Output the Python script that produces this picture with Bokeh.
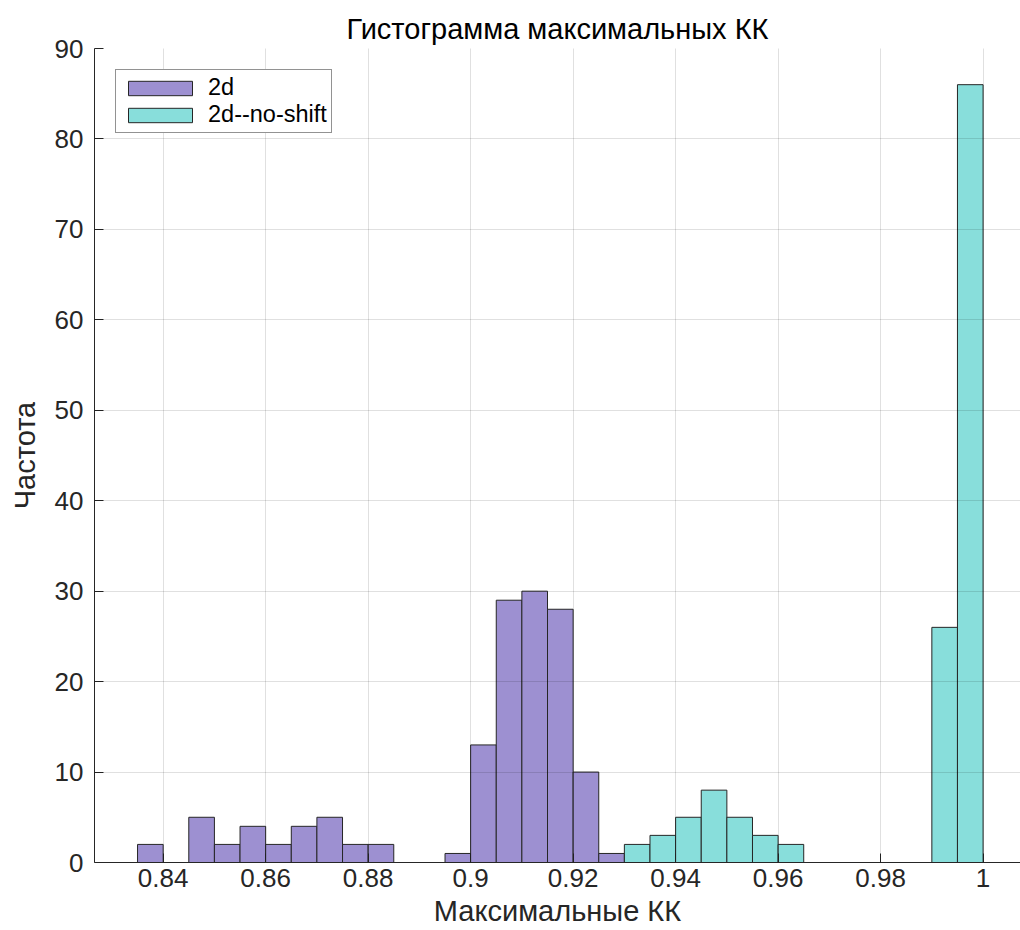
from bokeh.plotting import figure
from bokeh.models import ColumnDataSource, FixedTicker, Legend, LegendItem
from bokeh.embed import file_html
from bokeh.resources import INLINE

# ---- data ----
title_text = "Гистограмма максимальных КК"
x_label = "Максимальные КК"
y_label = "Частота"
series_names = ["2d", "2d--no-shift"]
bin_width = 0.005
start_2d = 0.835
counts_2d = [2, 0, 5, 2, 4, 2, 4, 5, 2, 2, 0, 0, 1, 13, 29, 30, 28, 10, 1]
start_noshift = 0.93
counts_noshift = [2, 3, 5, 8, 5, 3, 2, 0, 0, 0, 0, 0, 26, 86]
x_ticks = [0.84, 0.86, 0.88, 0.90, 0.92, 0.94, 0.96, 0.98, 1.0]
x_tick_labels = ["0.84", "0.86", "0.88", "0.9", "0.92", "0.94", "0.96", "0.98", "1"]
y_ticks = [0, 10, 20, 30, 40, 50, 60, 70, 80, 90]

colors = ["#9D90D1", "#88DEDB"]
edge = "#262626"
FONT = "Liberation Sans"


def hist_source(start, counts):
    left = [start + i * bin_width for i in range(len(counts))]
    right = [l + bin_width for l in left]
    return ColumnDataSource(dict(left=left, right=right, top=counts, bottom=[0] * len(counts)))


p = figure(width=1020, height=930, x_range=(0.8266, 1.0073), y_range=(0, 90),
           output_backend="svg", toolbar_location=None,
           min_border_left=94, min_border_right=0, min_border_top=48, min_border_bottom=68)

r1 = p.quad(left="left", right="right", top="top", bottom="bottom", source=hist_source(start_2d, counts_2d),
            fill_color=colors[0], line_color=edge, line_width=1)
r2 = p.quad(left="left", right="right", top="top", bottom="bottom", source=hist_source(start_noshift, counts_noshift),
            fill_color=colors[1], line_color=edge, line_width=1)

p.title.text = title_text
p.title.align = "center"
p.title.text_font = FONT
p.title.text_font_size = "29px"
p.title.text_font_style = "normal"
p.title.text_color = "#000000"
p.title.standoff = 8

p.xaxis.ticker = FixedTicker(ticks=x_ticks)
p.xaxis.major_label_overrides = {t: l for t, l in zip(x_ticks, x_tick_labels)}
p.yaxis.ticker = FixedTicker(ticks=y_ticks)
p.xgrid.ticker = FixedTicker(ticks=x_ticks)
p.ygrid.ticker = FixedTicker(ticks=y_ticks)

p.xaxis.axis_label = x_label
p.yaxis.axis_label = y_label
for ax in (p.xaxis[0], p.yaxis[0]):
    ax.major_tick_in = 9
    ax.major_tick_out = 0
    ax.minor_tick_in = 0
    ax.minor_tick_out = 0
    ax.axis_line_color = edge
    ax.major_tick_line_color = edge
    ax.major_label_text_color = edge
    ax.major_label_text_font = FONT
    ax.major_label_text_font_size = "26px"
    ax.axis_label_text_font = FONT
    ax.axis_label_text_font_size = "29px"
    ax.axis_label_text_font_style = "normal"
    ax.axis_label_text_color = edge
p.xaxis.major_label_standoff = 6
p.yaxis.major_label_standoff = 11
p.xaxis.axis_label_standoff = 5
p.yaxis.axis_label_standoff = 11

for g in (p.xgrid[0], p.ygrid[0]):
    g.grid_line_color = "#000000"
    g.grid_line_alpha = 0.12
    g.level = "guide"

p.outline_line_color = None
p.background_fill_color = "white"

legend = Legend(items=[LegendItem(label=series_names[0], renderers=[r1]),
                       LegendItem(label=series_names[1], renderers=[r2])],
                location="top_left", margin=21, padding=4, spacing=-5,
                glyph_width=80, glyph_height=18, label_standoff=8,
                label_text_font=FONT, label_text_font_size="23.5px", label_text_color="#000000",
                border_line_color=edge, border_line_width=1, background_fill_alpha=1.0)
p.add_layout(legend)

open("out.html", "w").write(file_html(p, INLINE))
